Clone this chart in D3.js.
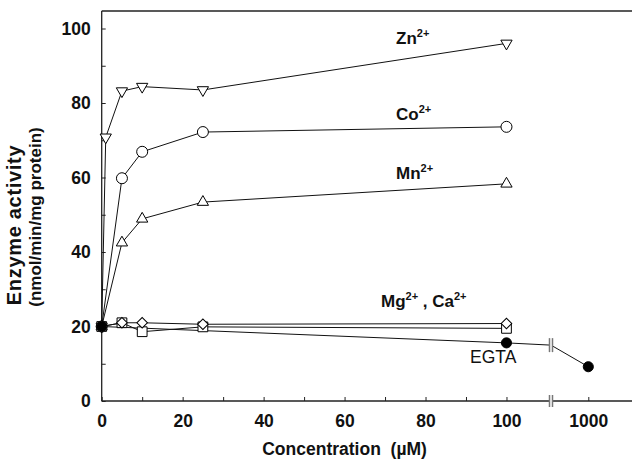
<!DOCTYPE html>
<html><head><meta charset="utf-8">
<script src="https://cdn.jsdelivr.net/npm/d3@7"></script>
<style>body{margin:0;background:#fff}</style>
</head><body><svg id="c" width="632" height="460"></svg>
<script>
// ---- data ----
const znConc = [0, 1, 5, 10, 25, 100];
const znValues = [20, 70.8, 83.2, 84.4, 83.5, 96.0];
const metalConc = [0, 5, 10, 25, 100];
const coValues = [20, 59.8, 66.9, 72.2, 73.6];
const mnValues = [20, 42.5, 48.9, 53.4, 58.3];
const mgValues = [20, 21.0, 21.0, 20.6, 20.8];
const caValues = [20, 21.0, 18.6, 19.9, 19.5];
const egtaConc = [0, 100, 1000];
const egtaValues = [20, 15.6, 9.2];
const breakConc = 111;          // axis break position (concentration units of first segment)
const egtaAtBreak = 15.0;       // EGTA line vertex at the break
const xTickValues = [0,10,20,30,40,50,60,70,80,90,100,1000];
const xTickLabels = ["0","","20","","40","","60","","80","","100","1000"];
const yTickValues = [0,10,20,30,40,50,60,70,80,90,100];
const yTickLabels = ["0","","20","","40","","60","","80","","100"];

// ---- layout ----
const svg = d3.select("#c");
const x = d3.scaleLinear().domain([0, breakConc, 1000]).range([101.7, 551, 588.3]);
const y = d3.scaleLinear().domain([0, 100]).range([401, 28.5]);
const frameTop = 11, rightEdge = 632;
const axisColor = "#222";
const font = "Liberation Sans, Arial, sans-serif";

// frame
svg.append("line").attr("x1", x(0)).attr("x2", rightEdge).attr("y1", frameTop).attr("y2", frameTop)
  .attr("stroke", axisColor).attr("stroke-width", 1.3);

// y axis
const yAxis = d3.axisLeft(y).tickValues(yTickValues).tickSizeInner(-4).tickSizeOuter(0)
  .tickFormat((d,i) => yTickLabels[i]);
const gy = svg.append("g").attr("transform", `translate(${x(0)},0)`).call(yAxis);
gy.select(".domain").attr("d", `M0,${frameTop}V${y(0)}`).attr("stroke", axisColor).attr("stroke-width",1.3);
gy.selectAll(".tick line").attr("stroke", axisColor);
gy.selectAll(".tick text").attr("x", -11).attr("font-family", font)
  .attr("font-weight", "bold").attr("font-size", 17.5).attr("fill", "#111");

// x axis
const xAxis = d3.axisBottom(x).tickValues(xTickValues).tickSizeInner(-4).tickSizeOuter(0)
  .tickFormat((d,i) => xTickLabels[i]);
const gx = svg.append("g").attr("transform", `translate(0,${y(0)})`).call(xAxis);
gx.select(".domain").attr("d", `M${x(0)},0H${rightEdge}`).attr("stroke", axisColor).attr("stroke-width",1.3);
gx.selectAll(".tick line").attr("stroke", axisColor);
gx.selectAll(".tick text").attr("y", 14).attr("dy", "0.71em").attr("font-family", font)
  .attr("font-weight", "bold").attr("font-size", 17.5).attr("fill", "#111");

// axis titles
svg.append("text").attr("x", x(0) + (x(100)-x(0))*0.6).attr("y", 455).attr("text-anchor","middle")
  .attr("font-family",font).attr("font-weight","bold").attr("font-size",17.5)
  .attr("fill","#111").attr("xml:space","preserve").text("Concentration  (\u00B5M)");
const yt = svg.append("text").attr("transform", "translate(0,217) rotate(-90)").attr("text-anchor","middle")
  .attr("font-family",font).attr("font-weight","bold").attr("font-size",17).attr("fill","#111");
yt.append("tspan").attr("x",-8).attr("y",21).attr("font-size",20).attr("letter-spacing",0.7).text("Enzyme activity");
yt.append("tspan").attr("x",0).attr("y",41).text("(nmol/min/mg protein)");

// ---- lines ----
const line = d3.line().x(d => x(d[0])).y(d => y(d[1]));
const zip = (xs, ys) => xs.map((v,i) => [v, ys[i]]);
const egtaLine = [[egtaConc[0],egtaValues[0]],[egtaConc[1],egtaValues[1]],[breakConc,egtaAtBreak],[egtaConc[2],egtaValues[2]]];
const series = [
  {pts: zip(egtaConc, egtaValues), linePts: egtaLine, sym: "fcircle"},
  {pts: zip(metalConc, caValues), sym: "square"},
  {pts: zip(metalConc, mgValues), sym: "diamond"},
  {pts: zip(metalConc, mnValues), sym: "tri"},
  {pts: zip(metalConc, coValues), sym: "circle"},
  {pts: zip(znConc, znValues), sym: "trid"},
];
series.forEach(s => {
  svg.append("path").attr("d", line(s.linePts || s.pts)).attr("fill","none").attr("stroke","#111").attr("stroke-width",1);
});

// break marks
const bx = x(breakConc);
[[y(0)-6, y(0)+6],[y(egtaAtBreak)-7, y(egtaAtBreak)+7]].forEach(([a,b]) => {
  svg.append("rect").attr("x", bx-2).attr("y", a).attr("width", 4).attr("height", b-a).attr("fill","#fff");
  svg.append("line").attr("x1",bx-1.5).attr("x2",bx-1.5).attr("y1",a).attr("y2",b).attr("stroke","#777").attr("stroke-width",1.5);
  svg.append("line").attr("x1",bx+1.5).attr("x2",bx+1.5).attr("y1",a).attr("y2",b).attr("stroke","#777").attr("stroke-width",1.5);
});

// ---- markers ----
const symPath = {
  circle: d3.symbol(d3.symbolCircle, 95)(),
  fcircle: d3.symbol(d3.symbolCircle, 80)(),
  square: d3.symbol(d3.symbolSquare, 95)(),
  diamond: d3.symbol(d3.symbolSquare, 56)(),
  tri: d3.symbol(d3.symbolTriangle, 55)(),
  trid: d3.symbol(d3.symbolTriangle, 55)()
};
const symRot = {diamond: 45, trid: 180};
// draw open markers first, EGTA filled circle last
[1,2,3,4,5,0].forEach(k => {
  const s = series[k];
  svg.append("g").selectAll("path").data(s.pts).join("path")
    .attr("d", symPath[s.sym])
    .attr("transform", d => `translate(${x(d[0])},${y(d[1])}) rotate(${symRot[s.sym]||0})`)
    .attr("fill", s.sym === "fcircle" ? "#000" : "#fff")
    .attr("stroke", "#000").attr("stroke-width", 1);
});

// ---- series labels ----
function ionLabel(px, py, parts) {
  const t = svg.append("text").attr("x", px).attr("y", py)
    .attr("font-family",font).attr("font-weight","bold").attr("font-size",17).attr("fill","#111");
  parts.forEach(p => {
    if (p.sup) t.append("tspan").attr("font-size",11).attr("dy",-7).text(p.t);
    else t.append("tspan").attr("dy", p.down ? 7 : 0).text(p.t);
  });
}
ionLabel(396, 44, [{t:"Zn"},{t:"2+",sup:true}]);
ionLabel(396, 120, [{t:"Co"},{t:"2+",sup:true}]);
ionLabel(396, 179, [{t:"Mn"},{t:"2+",sup:true}]);
ionLabel(381, 307, [{t:"Mg"},{t:"2+",sup:true},{t:" , Ca",down:true},{t:"2+",sup:true}]);
svg.append("text").attr("x", 470).attr("y", 363).attr("font-family",font)
  .attr("font-size",17.5).attr("fill","#111").text("EGTA");
</script>
</body></html>
